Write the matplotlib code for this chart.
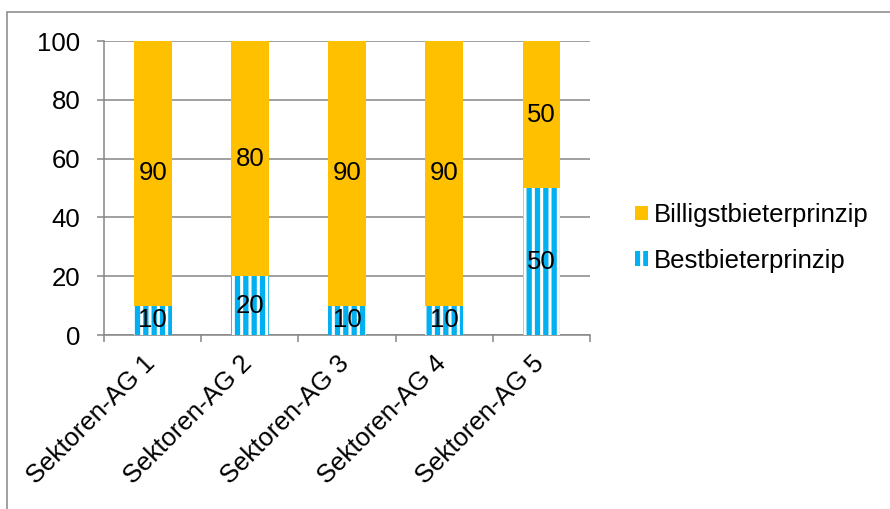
import numpy as np
import matplotlib.pyplot as plt
import matplotlib.transforms as mtransforms
from matplotlib.patches import Rectangle

plt.rcParams['font.family'] = ['Liberation Sans', 'DejaVu Sans']
plt.rcParams['hatch.linewidth'] = 3.8

categories = ['Sektoren-AG 1', 'Sektoren-AG 2', 'Sektoren-AG 3', 'Sektoren-AG 4', 'Sektoren-AG 5']
best = [10, 20, 10, 10, 50]
billig = [90, 80, 90, 90, 50]

blue = '#00B0F0'
orange = '#FFC000'
grid = '#868686'
fs = 18.5

fig = plt.figure(figsize=(8.9, 5.09), dpi=100)
ax = fig.add_axes([0.1169, 0.3418, 0.5461, 0.5776])

x = np.arange(len(categories))
w = 0.39
ax.bar(x, best, w, facecolor='white', edgecolor=blue, hatch='||', linewidth=0,
       label='Bestbieterprinzip', zorder=3)
ax.bar(x, billig, w, bottom=best, color=orange, label='Billigstbieterprinzip', zorder=3)

for i in range(len(categories)):
    ax.text(x[i], best[i] / 2, str(best[i]), ha='center', va='center', fontsize=fs, zorder=4)
    ax.text(x[i], best[i] + billig[i] / 2, str(billig[i]), ha='center', va='center', fontsize=fs, zorder=4)

ax.set_xlim(-0.5, len(categories) - 0.5)
ax.set_ylim(0, 100)
ax.set_yticks(range(0, 101, 20))
ax.yaxis.grid(True, color=grid, linewidth=1.1)
ax.set_axisbelow(True)
ax.tick_params(axis='y', labelsize=fs, length=5, color=grid, width=1.1, pad=12)

ax.set_xticks(x)
ax.set_xticklabels(categories, rotation=45, ha='right', rotation_mode='anchor', fontsize=fs)
ax.tick_params(axis='x', length=0, pad=12)
shift = mtransforms.ScaledTranslation(-10 / 100, 0, fig.dpi_scale_trans)
for lab in ax.get_xticklabels():
    lab.set_transform(lab.get_transform() + shift)
ax.set_xticks(np.arange(-0.5, len(categories)), minor=True)
ax.tick_params(axis='x', which='minor', length=5, color=grid, width=1.1)

for s in ['top', 'right']:
    ax.spines[s].set_visible(False)
ax.spines['left'].set_color(grid)
ax.spines['bottom'].set_color(grid)
ax.spines['left'].set_linewidth(1.1)
ax.spines['bottom'].set_linewidth(1.1)

h, l = ax.get_legend_handles_labels()
ax.legend(h[::-1], l[::-1], loc='center left', bbox_to_anchor=(1.045, 0.33), frameon=False,
          fontsize=fs, handlelength=0.5, handleheight=0.5, handletextpad=0.25, labelspacing=0.85)

fig.patches.append(Rectangle((7 / 890, -0.01), 1.0, 1 - 12 / 509 + 0.01, transform=fig.transFigure,
                             fill=False, edgecolor=grid, linewidth=1.1))

fig.savefig('out.png', dpi=100)
